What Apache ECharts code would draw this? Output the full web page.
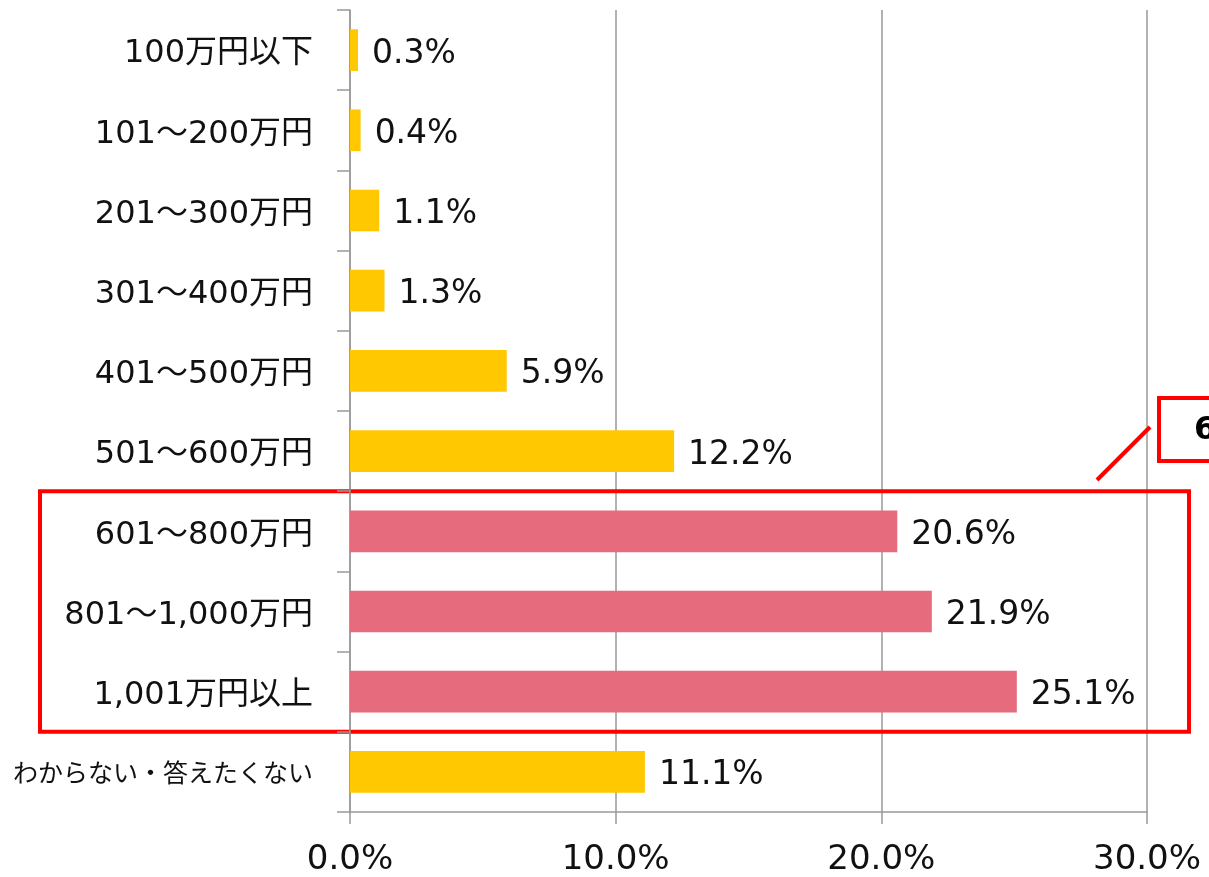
<!DOCTYPE html>
<html>
<head>
<meta charset="utf-8">
<script src="https://cdn.jsdelivr.net/npm/echarts@6/dist/echarts.min.js"></script>
<style>
  html, body { margin: 0; padding: 0; background: #fff; }
  #chart { width: 1209px; height: 877px; }
</style>
</head>
<body>
<div id="chart"></div>
<script>
const categories = ['100万円以下', '101～200万円', '201～300万円', '301～400万円', '401～500万円',
  '501～600万円', '601～800万円', '801～1,000万円', '1,001万円以上', 'わからない・答えたくない']
const values = [0.3, 0.4, 1.1, 1.3, 5.9, 12.2, 20.6, 21.9, 25.1, 11.1]
const highlighted = [6, 7, 8]
const xTicks = [0, 10, 20, 30]

const fontFamily = "'DejaVu Sans', 'Noto Sans CJK JP', sans-serif"
const yellow = '#ffc800'
const pink = '#e66b7d'
const red = '#ff0000'
const textColor = '#111'

const chart = echarts.init(document.getElementById('chart'))

const option = {
  backgroundColor: '#fff',
  animation: false,
  textStyle: { fontFamily: fontFamily },
  grid: { left: 350, right: 62, top: 10, bottom: 65, containLabel: false },
  xAxis: {
    type: 'value',
    min: xTicks[0],
    max: xTicks[xTicks.length - 1],
    interval: 10,
    axisLine: { show: true, lineStyle: { color: '#999', width: 1.5 } },
    axisTick: { show: true, length: 12, lineStyle: { color: '#999', width: 1.5 } },
    splitLine: { show: true, lineStyle: { color: '#999', width: 1.5 } },
    axisLabel: {
      color: textColor, fontSize: 34, margin: 31,
      formatter: v => v.toFixed(1) + '%'
    }
  },
  yAxis: {
    type: 'category',
    inverse: true,
    data: categories,
    axisLine: { show: true, lineStyle: { color: '#999', width: 1.5 } },
    axisTick: { show: true, length: 13, lineStyle: { color: '#999', width: 1.5 } },
    axisLabel: {
      color: textColor, fontSize: 32, margin: 37, padding: [8, 0, 0, 0],
      // the last, long label is set smaller so it fits left of the axis
      formatter: (v, i) => i === categories.length - 1 ? '{s|' + v + '}' : v,
      rich: { s: { fontSize: 25, color: textColor, fontFamily: fontFamily } }
    }
  },
  series: [{
    type: 'bar',
    barWidth: '52%',
    data: values.map((v, i) => ({
      value: v,
      itemStyle: { color: highlighted.includes(i) ? pink : yellow }
    })),
    label: {
      show: true,
      position: 'right',
      distance: 14,
      offset: [0, 4],
      color: textColor,
      fontSize: 33,
      formatter: p => p.value.toFixed(1) + '%'
    }
  }]
}

chart.setOption(option)

// annotations: red frame around highlighted rows and the callout box
const c0 = chart.convertToPixel({ yAxisIndex: 0 }, categories[0])
const c1 = chart.convertToPixel({ yAxisIndex: 0 }, categories[1])
const band = c1 - c0
const boxTop = chart.convertToPixel({ yAxisIndex: 0 }, categories[highlighted[0]]) - band / 2
const boxBottom = chart.convertToPixel({ yAxisIndex: 0 }, categories[highlighted[highlighted.length - 1]]) + band / 2

chart.setOption({
  graphic: [
    {
      type: 'rect',
      shape: { x: 40, y: boxTop, width: 1149, height: boxBottom - boxTop },
      style: { fill: 'none', stroke: red, lineWidth: 4 }
    },
    {
      type: 'line',
      shape: { x1: 1097, y1: 480, x2: 1150, y2: 427 },
      style: { stroke: red, lineWidth: 4 }
    },
    {
      type: 'rect',
      shape: { x: 1159, y: 398, width: 120, height: 63 },
      style: { fill: '#fff', stroke: red, lineWidth: 4 }
    },
    {
      type: 'text',
      x: 1194, y: 431,
      style: { text: '6', fontSize: 32, fontWeight: 'bold', fill: '#000', fontFamily: fontFamily, verticalAlign: 'middle' }
    }
  ]
})
</script>
</body>
</html>
